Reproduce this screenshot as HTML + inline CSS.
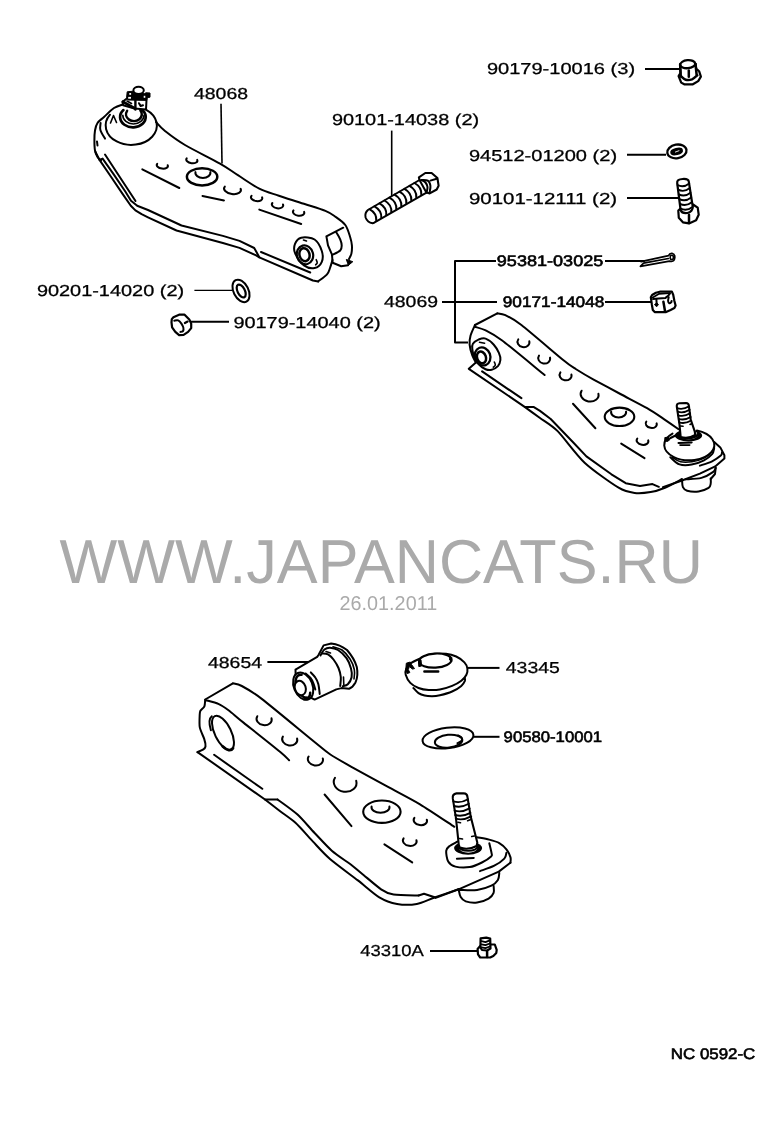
<!DOCTYPE html>
<html lang="en">
<head>
<meta charset="utf-8">
<title>Parts diagram NC 0592-C</title>
<style>
html,body{margin:0;padding:0;background:#fff;}
body{width:784px;height:1130px;overflow:hidden;position:relative;}
svg{display:block;position:absolute;left:0;top:0;will-change:transform;}
text{text-rendering:geometricPrecision;}
.t{font-family:"Liberation Sans",sans-serif;font-size:15.9px;fill:#000;stroke:#000;stroke-width:0.28;}
.b{font-family:"Liberation Sans",sans-serif;font-size:15.3px;fill:#000;stroke:#000;stroke-width:0.6;}
.w{font-family:"Liberation Sans",sans-serif;fill:#aaa;}
.l{fill:none;stroke:#000;stroke-width:2;stroke-linecap:round;stroke-linejoin:round;}
.f{fill:#fff;stroke:#000;stroke-width:2;stroke-linecap:round;stroke-linejoin:round;}
.h{fill:none;stroke:#000;stroke-width:1.6;stroke-linecap:round;stroke-linejoin:round;}
.k{fill:none;stroke:#000;stroke-width:2.5;stroke-linecap:round;stroke-linejoin:round;}
.d{fill:#000;stroke:#000;stroke-width:1;stroke-linejoin:round;}
</style>
</head>
<body>
<svg width="784" height="1130" viewBox="0 0 784 1130">
<rect x="0" y="0" width="784" height="1130" fill="#fff"/>
<!-- watermark -->
<g id="wm">
<text class="w" x="59.4" y="583" font-size="62" textLength="643.5" lengthAdjust="spacingAndGlyphs">WWW.JAPANCATS.RU</text>
<text class="w" x="339.6" y="609.8" font-size="20" textLength="97.6" lengthAdjust="spacingAndGlyphs">26.01.2011</text>
</g>
<!-- leader lines -->
<g id="leaders" class="l" style="stroke-width:2;stroke-linecap:butt">
<path d="M221 103.8 L222 163.5" style="stroke-width:1.6"/>
<path d="M391.7 130.6 V196" style="stroke-width:1.6"/>
<path d="M645 69 H679.5"/>
<path d="M627 154.8 H666"/>
<path d="M627 198 H679"/>
<path d="M496 261 H455 V342.5 H468"/>
<path d="M442 302 H497"/>
<path d="M605 261.1 H645"/>
<path d="M605 302 H651"/>
<path d="M194.4 290.4 H232" style="stroke-width:1.15"/>
<path d="M190 321.8 H229"/>
<path d="M267.4 662 H308"/>
<path d="M468 667.9 H499.5"/>
<path d="M473.5 736.8 H499.5"/>
<path d="M430 951 H477.5"/>
</g>
<!-- upper control arm 48068 -->
<g id="arm1">
<path class="l" d="M124 104 C122.3 104.7 117.3 105.8 114 108 C110.7 110.2 106.8 114.5 104 117 C101.2 119.5 99 120.8 97.5 123 C96 125.2 95.5 127.6 95 130.5 C94.5 133.4 94.4 137.2 94.4 140.5 C94.4 143.8 94.5 147.8 95 150.5 C95.5 153.2 96.5 155.3 97.5 157 C98.5 158.7 100.4 159.9 101 160.5"/>
<path class="l" d="M95.4 151.8 L99.5 159.9 L111 176.7 L122.4 193.6 L130.8 205.8 L135.4 210.4 L141.6 214.2 L148 217.3 L176.5 230.5 L222.9 243 L239.5 247.9 L256.1 255.4 L259.3 257.3"/>
<path class="l" d="M99.5 159.9 L102.6 158.6 L113.9 174.6 L125.3 191.5 L131 200.8 L137.2 205.8 L148 210 L181.5 225.5 L222.9 235.9 L239.5 240.9 L254.2 248 L257 253 L259.3 257.3 L312.9 280.5 L318.2 281.4"/>
<path class="l" d="M105 154.5 L135.5 201"/>
<path class="l" d="M261 252 L310.2 272.5"/>
<path class="l" d="M156 122 C157.5 123.5 160.2 127.2 165 131 C169.8 134.8 175.8 139.6 185 145 C194.2 150.4 211.2 158.6 220 163.6 C228.8 168.6 231.3 171 237.9 175.2 C244.5 179.4 252.5 185.2 259.3 188.6 C266.1 192 271.5 193.2 278.9 195.7 C286.3 198.2 296.1 201.2 303.9 203.8 C311.6 206.3 320 208.7 325.4 210.9 C330.8 213.1 332.7 214.8 336 217.1 C339.3 219.4 342.9 221.7 345.3 225 C347.7 228.3 349.1 233.8 350.2 237.2 C351.3 240.6 351.7 242.7 351.9 245.4 C352.1 248.1 351.9 251.3 351.4 253.6 C350.9 255.9 349.4 258.1 349 259"/>
<path class="l" d="M343.2 227.7 L326.4 236.4 L328 245.4 L332 254.6 L332.6 262.8 L341.2 266.3 L348 265.3"/>
<path class="l" d="M336.1 232.1 C336.8 233.3 339.3 237.1 340.2 239.3 C341.1 241.5 341.7 243.5 341.7 245.4 C341.7 247.3 341.8 248.9 340.2 250.5 C338.6 252.1 333.4 254.3 332 255.1"/>
<path class="l" d="M332.5 260 C332.1 261.3 330.9 265.6 330 268 C329.1 270.4 329 272.1 327 274.3 C325 276.5 319.7 280.2 318.2 281.4"/>
<path class="d" d="M346.3 259.4 L352.8 261.7 L348.4 265.3Z"/>
<path class="l" d="M301.2 237.7 C304.5 237 311.2 237.3 314.6 239.5 C318 241.7 320.6 247.3 321.8 251 C323 254.7 323 259 321.8 261.8 C320.6 264.6 317.6 267.4 314.6 268 C311.6 268.6 307.3 267.9 304 265.4 C300.7 262.9 296.5 256.5 295 252.9 C293.5 249.3 294 246.4 295 243.9 C296 241.4 298 238.4 301.2 237.7Z"/>
<ellipse class="l" style="stroke-width:2.2" cx="305" cy="254.8" rx="8.1" ry="9.5" transform="rotate(-15 305 254.8)"/>
<ellipse class="l" style="stroke-width:2.5" cx="304.5" cy="254.7" rx="5" ry="6.6" transform="rotate(-15 304.5 254.7)"/>
<path class="h" d="M303.5 240 L306.5 241"/>
<path class="h" d="M316.2 259.7 C316.4 260.2 317.3 261.9 317.2 262.8 C317.1 263.7 315.9 264.5 315.7 264.8"/>
<path class="l" d="M146.3 109.8 A25.6 19.4 0 1 1 110 114.7"/>
<path class="l" style="stroke-width:2.7" d="M141.1 109.1 A12.8 10.3 0 1 1 123.4 110.1"/>
<path class="h" d="M144 115.2 A10.6 8.8 0 1 1 122.8 115.2"/>
<path class="l" style="stroke-width:2.5" d="M140.4 110.4 A7.9 6.8 0 1 1 127.1 110.9"/>
<path class="f" style="stroke-width:2" d="M127.5 98 L122.6 101.8 L123.2 105.3 L134.5 108.6 L146 109.6 L146.6 98 Z"/>
<path class="l" style="stroke-width:2.8" d="M122.8 101.8 L134.6 108.2"/>
<path class="l" style="stroke-width:2.4" d="M135.4 99 L135.4 109.6"/>
<path class="l" style="stroke-width:2" d="M139 103.2 L140.6 106 L143 105.2"/>
<path class="h" d="M127 101 L131.5 103.5"/>
<path class="d" d="M127.2 91.8 L133.2 91.2 L134 93.6 L144.5 93.6 L146 92.8 L150 93 L150 97.2 L147.2 97.6 L146.6 100.4 L128 100 L126.6 97.4 Z"/>
<ellipse cx="138.6" cy="90.3" rx="5.2" ry="3.6" fill="#fff" stroke="#000" stroke-width="2"/>
<rect x="129.3" y="93" width="1.8" height="1.8" fill="#fff"/>
<rect x="128.2" y="96.9" width="2.8" height="1.8" fill="#fff"/>
<rect x="143.7" y="95.8" width="1.6" height="2" fill="#fff"/>
<path class="l" d="M100.6 123 C100.6 124.2 99.7 127.4 100.4 130 C101.1 132.6 104.2 137.2 105 138.6"/>
<path class="l" d="M97 141.5 L97.5 145.5"/>
<path class="h" d="M110.5 123 L113.5 115.5 L116.5 122.5"/>
<ellipse class="k" cx="202.1" cy="176.8" rx="15.2" ry="8.6"/>
<path class="l" d="M210.3 172.1 A7.5 5 0 1 1 195.5 172.1"/>
<path class="l" d="M142.3 169.3 L179.3 188"/>
<path class="l" d="M202.5 196 L224 200.4"/>
<path class="l" d="M259.3 209.6 L301.2 224"/>
<path class="l" d="M167.7 165.2 A5.6 3.1 8 1 1 157.2 163.8"/>
<path class="l" d="M197.2 159.8 A5.6 3.1 8 1 1 186.7 158.4"/>
<path class="l" d="M240.6 188.8 A8.5 4.7 8 1 1 224.8 186.6"/>
<path class="l" d="M262.1 197.3 A5.7 3.4 8 1 1 251.5 195.8"/>
<path class="l" d="M283 204.5 A5.7 3.4 8 1 1 272.4 203"/>
<path class="l" d="M304.1 211.9 A5.7 3.4 8 1 1 293.5 210.4"/>
</g>
<!-- upper control arm 48069 -->
<g id="arm2">
<path class="l" d="M475.9 362.5 C475.3 361.3 473.4 358.4 472.3 355.4 C471.2 352.4 469.9 347.9 469.6 344.6 C469.3 341.3 469.6 339 470.5 335.7 C471.4 332.4 474.2 326.8 475 325"/>
<path class="l" d="M475 325 L497.3 313.4"/>
<path class="l" d="M497.3 313.4 C498.4 313.6 502.2 313.7 505.4 315.2 C508.6 316.7 513.7 319 521.4 325 C529.1 331 556 354.1 563.2 360 C570.4 365.9 571.6 366.4 575.7 369 C579.8 371.6 587.6 376.3 593.6 379.6 C599.6 382.9 613.3 390.2 620.4 394 C627.5 397.8 641.2 404.8 647.1 408.2 C653 411.6 660.8 417 665 419.8 C669.2 422.6 676.8 428 678.6 429.3"/>
<path class="l" d="M475 326.8 C476.4 327.3 482.1 328.6 485.7 330.4 C489.3 332.2 493.9 334.3 501.8 340.2 C509.7 346.1 538.9 370.4 544.6 375"/>
<path class="l" d="M472.9 343.7 C473.9 342.2 476.4 340.5 478.5 339.6 C480.6 338.8 483.1 337.8 485.6 338.6 C488.2 339.5 491.6 342.3 493.8 344.7 C496 347.1 497.8 350.3 498.9 352.9 C500 355.4 500.6 357.8 500.4 360 C500.2 362.2 499.3 364.5 497.9 366.1 C496.4 367.7 493.8 369.2 491.7 369.7 C489.6 370.2 487.8 370.1 485.6 369.2 C483.4 368.3 480.4 366.3 478.5 364.1 C476.6 361.9 474.9 358.4 473.9 355.9 C472.9 353.3 472.5 350.8 472.3 348.8 C472.1 346.8 471.9 345.2 472.9 343.7Z"/>
<ellipse class="l" style="stroke-width:2.3" cx="482.6" cy="356.4" rx="7.7" ry="9.2" transform="rotate(-20 482.6 356.4)"/>
<ellipse class="l" style="stroke-width:2.5" cx="481.5" cy="357.4" rx="4.4" ry="6" transform="rotate(-20 481.5 357.4)"/>
<path class="h" d="M479.5 342.2 L484.6 343.2"/>
<path class="h" d="M494.3 362 C494.5 362.5 495.5 364.2 495.3 365.1 C495.1 366 493.6 366.8 493.3 367.1"/>
<path class="l" d="M475.9 362.5 L468.8 368.8 L525 407.1 L533.9 407.1 L540 410.9 L550.7 419 L572.1 441.2 L586.4 456.4 L611.4 474.3 L625.7 483.2 L640 485.9 L652.5 484.1 L658.8 486.8"/>
<path class="l" d="M482.1 371.4 L521.4 398.2"/>
<path class="l" d="M525 407.1 C527 408.6 535.6 414.8 540 418 C544.4 421.2 552 425.4 557.9 431.4 C563.8 437.4 576.5 455.2 584.6 462.7 C592.7 470.2 611.9 483.7 618.6 487.7 C625.3 491.7 630.3 492.4 634.6 493 C638.9 493.6 646.6 492.8 650.7 492.1 C654.8 491.4 660.8 489.4 665 487.7 C669.2 486 679.7 480.2 682 479"/>
<ellipse class="l" style="stroke-width:2.1" cx="619.5" cy="416.8" rx="14.8" ry="9.2"/>
<path class="l" d="M626 411.6 A7.5 5 0 1 1 611.2 411.6"/>
<path class="l" d="M573 403.8 L595.4 428.2"/>
<path class="l" d="M621.2 443.6 L644.5 458.2"/>
<path class="l" d="M696.9 430.4 A25 15.3 0 1 1 672.5 433.6"/>
<path class="l" d="M670.3 457.2 C671.8 458.4 675.9 463.2 679.5 464.4 C683.1 465.6 687.6 465.3 691.7 464.6 C695.8 463.9 700.6 462 704 460.3 C707.4 458.6 710.4 456.2 712.1 454.2 C713.8 452.1 713.9 449 714.2 448"/>
<path class="h" d="M672.5 457.5 C673.8 458.2 677.2 461.1 680.5 461.8 C683.8 462.5 688.2 462.3 692 461.8 C695.8 461.3 700 460 703 458.6 C706 457.2 708.8 454.4 710 453.6"/>
<ellipse cx="688.5" cy="435.6" rx="13.6" ry="6" fill="#000"/>
<ellipse cx="688.7" cy="434.8" rx="9.2" ry="4.5" fill="#fff"/>
<path class="l" style="stroke-width:2.2" d="M697.5 434.2 A9.2 4 0 0 1 679.1 434.2"/>
<path class="l" d="M678.5 443 L691.7 442.4"/>
<path class="h" d="M680 445.1 L689.7 445.1"/>
<path class="d" d="M664.8 437.6 L668.5 437 L670 439.5 L667.5 441.5 L665 441Z"/>
<path class="l" d="M670.5 438 L675.5 435.5"/>
<path class="f" style="stroke-width:2.1" d="M676.8 406.6 Q676.4 403.4 679.5 403.2 L686 403 Q688.6 403.2 688.8 405.4 L690.7 419.5 L694.8 431.7 L695.2 435 Q688 439.5 680.7 437 L679.5 424.6 Z"/>
<path class="l" style="stroke-width:1.8" d="M677.3 408.2 Q683.0 410.0 689.2 406.2"/>
<path class="l" style="stroke-width:1.8" d="M677.8 411.7 Q683.5 413.5 689.7 409.7"/>
<path class="l" style="stroke-width:1.8" d="M678.3 415.3 Q684.0 417.1 690.2 413.3"/>
<path class="l" style="stroke-width:1.8" d="M678.8 418.9 Q684.5 420.7 690.7 416.9"/>
<path class="l" style="stroke-width:1.8" d="M679.3 422.4 Q685.0 424.2 691.2 420.4"/>
<path class="h" d="M680.5 426 L683 426.3"/>
<path class="h" d="M690 424.5 L692 423.5"/>
<path class="l" d="M714.2 442 L720.3 447.4 L724.4 455.2 L724.4 458.6 L715.2 466.4 L699.9 473.6 L681.4 480.7 L662.9 487.1"/>
<path class="l" d="M699.9 465.6 C701.9 464.9 708.6 463 712.1 461.3 C715.6 459.6 719.1 457.1 720.8 455.6 C722.4 454.1 721.8 452.9 722 452.4"/>
<path class="l" d="M682.1 480.7 C682.2 481.8 682.1 485.4 682.9 487.1 C683.7 488.8 684.5 490 687.1 490.7 C689.7 491.4 695 491.9 698.6 491.4 C702.2 490.9 706.6 489.2 708.6 487.9 C710.6 486.6 710.4 485.2 710.7 483.6 C711.1 482.1 710.7 479.4 710.7 478.6"/>
<path class="l" d="M685.7 479.3 C688.3 479.1 696.9 479.1 701.4 477.9 C705.9 476.7 710.5 473.8 712.9 472.1 C715.3 470.4 715.2 468.6 715.7 467.9"/>
<path class="l" d="M715.7 467.9 L715 474 L710.7 479"/>
<path class="l" d="M529.3 341.2 A6 5.1 10 1 1 518.3 339.2"/>
<path class="l" d="M550 357.6 A6 5.1 10 1 1 539 355.6"/>
<path class="l" d="M571.4 374.4 A6 5.1 10 1 1 560.4 372.4"/>
<path class="l" d="M598.4 393.7 A9 7.1 10 1 1 581.6 390.7"/>
<path class="l" d="M656.6 423.4 A5.6 4 10 1 1 646.3 421.6"/>
<path class="l" d="M648.2 440.4 A5.9 4 10 1 1 637.3 438.5"/>
</g>
<!-- lower control arm -->
<g id="arm3">
<path class="l" d="M205.2 699.7 C205.1 700.6 205 704.9 204.4 706.4 C203.8 707.9 201 709.7 200.4 710.8 C199.8 711.9 199.8 712.6 199.7 714.8 C199.6 717 199.2 724.2 199.8 727.4 C200.4 730.6 203.4 736.4 204.2 738.9 C205 741.4 205.7 745.1 205.5 746.5 C205.3 747.9 204.1 749 203 749.7 C201.9 750.4 198.2 751.8 197.5 752.1"/>
<path class="l" d="M205.2 699.5 L232.9 683.4"/>
<path class="l" d="M232.9 683.4 C234.1 683.7 238 684 241.8 686 C245.6 688 252 691.4 261.4 698.6 C270.8 705.8 303 732.6 312.1 740 C321.2 747.4 324.8 750.7 330 754.3 C335.2 757.9 343.8 762.5 351.4 766.8 C359 771.1 378 781.4 387.1 786.4 C396.2 791.4 411 798.9 420 804.3 C429 809.7 449.7 823.8 454.3 826.8"/>
<path class="l" d="M205.8 700.2 C207.5 700.7 215.3 702.5 218.3 703.8 C221.3 705.1 225.1 707.7 228.5 710.2 C231.9 712.7 236.9 717.4 243.8 722.9 C250.7 728.4 274 746.8 280 751.8 C286 756.8 287.9 759.1 289.1 760.2"/>
<ellipse class="l" cx="223" cy="732.8" rx="8.2" ry="18.6" transform="rotate(-26 223 732.8)"/>
<path class="l" style="stroke-width:2.8" d="M233 748.2 A8.2 18.6 -26 0 1 222.8 746.5"/>
<path class="l" d="M210.9 730.3 A8.2 18.6 -26 0 1 211.8 716.3"/>
<path class="l" d="M197.5 752.1 L265 799.5 L277.5 799.5"/>
<path class="l" d="M277.5 799.5 C280.2 801.5 292.6 810.1 297.5 814.6 C302.4 819.1 310 828.2 314.6 833 C319.2 837.8 326.9 846.4 331.8 850.7 C336.7 855 347.5 862 351.4 865 C355.3 868 357.4 870 361.4 873.2 C365.4 876.4 376.8 886.4 381.1 889.3 C385.4 892.2 388.6 893.8 393.6 894.6 C398.6 895.4 415.3 895.4 418.6 895.5"/>
<path class="l" d="M418.6 895.5 L424 893.8 L434.6 897.3"/>
<path class="l" d="M214.1 754.8 L262.3 788.8"/>
<path class="l" d="M265 799.5 C266.9 801 275.5 807.7 279.5 810.8 C283.5 813.9 290.7 818.5 295.2 822.6 C299.7 826.7 308.4 836.7 313 841.6 C317.6 846.5 324 853.8 330 859 C336 864.2 351.3 875.3 357.9 880.4 C364.5 885.5 374.1 894.2 379.3 897.3 C384.5 900.4 392.1 903 397.1 903.9 C402.1 904.8 411.8 904.8 416.8 903.9 C421.8 903 429 899.4 434.6 897.5 C440.2 895.6 455.4 890.4 458.6 889.3"/>
<ellipse class="l" style="stroke-width:2.1" cx="381.9" cy="811.7" rx="18.7" ry="11.2"/>
<path class="l" d="M389.4 806.5 A9 5.5 0 1 1 371.6 806.5"/>
<path class="l" d="M324.6 794.5 L351.5 826.1"/>
<path class="l" d="M384.4 844.4 L412.2 862.4"/>
<path class="l" d="M457.4 841.6 C456.2 842.3 451 844.8 449.3 846.2 C447.6 847.6 446.4 848.5 446.2 850.8 C446 853.1 446.8 859.1 448.2 861.5 C449.6 863.9 452.2 865.8 455.4 866.6 C458.6 867.4 465.7 867.7 469.7 867.1 C473.7 866.5 478.7 864.1 481.9 862.5 C485.1 860.9 489.6 857.8 491.1 856.4 C492.6 855 491.9 855.3 491.6 853.3 C491.3 851.3 489.6 844.8 489.3 843.3"/>
<ellipse cx="468.1" cy="848.1" rx="14" ry="6.6" fill="#000"/>
<ellipse cx="468.3" cy="847.6" rx="9.3" ry="5.1" fill="#fff"/>
<path class="l" d="M477.6 846.6 A9.4 4.2 0 0 1 458.8 846.6"/>
<path class="l" style="stroke-width:2" d="M456.9 858.7 L473.8 857.9"/>
<path class="f" style="stroke-width:2.1" d="M452.8 798.4 Q452.2 794 456.5 793.4 L463.5 793.2 Q467.2 793.4 467.4 796.6 L470.7 816.6 L477.3 842.6 L476.6 846 Q468 850.6 459.8 847.6 L458.8 845 L455.9 817.6 Z"/>
<path class="l" style="stroke-width:1.9" d="M453.4 801.4 Q460.5 803.6 468.0 799.2"/>
<path class="l" style="stroke-width:1.9" d="M454.0 806.0 Q461.1 808.2 468.8 803.8"/>
<path class="l" style="stroke-width:1.9" d="M454.6 810.6 Q461.7 812.8 469.6 808.4"/>
<path class="l" style="stroke-width:1.9" d="M455.2 815.0 Q462.3 817.2 470.4 812.8"/>
<path class="l" style="stroke-width:1.9" d="M455.8 818.6 Q462.9 820.8 471.2 816.4"/>
<path class="h" d="M457.9 822.2 L460.5 822.8"/>
<path class="h" d="M467.6 820.7 L470.2 819.7"/>
<path class="h" d="M471.7 836.5 L474.3 836"/>
<path class="h" d="M459.5 838.5 L462.5 839"/>
<path class="l" d="M476.8 837.2 C478.6 837.6 485.7 838.7 489.1 839.6 C492.5 840.5 496.7 841.6 499.3 843.1 C501.9 844.6 504.7 847.2 506.4 849.3 C508.1 851.4 509.9 855.4 510.5 857.4 C511.1 859.4 510.4 861.9 510.4 862.7"/>
<path class="l" d="M510.4 862.7 L498.8 871.6 L458.6 889.3 L435.7 897.9"/>
<path class="l" d="M480 871.1 C482.4 870.2 490.2 867.8 494.3 865.7 C498.4 863.6 502.3 860.7 504.3 858.6 C506.3 856.5 506 853.9 506.4 852.9"/>
<path class="l" d="M458.6 889.3 C459 890.6 459.5 895.1 460.7 897.1 C461.9 899.1 463 900.5 465.7 901.4 C468.4 902.3 473.3 903.1 477.1 902.6 C480.9 902.1 485.9 900.2 488.6 898.6 C491.4 897 492.8 895 493.6 892.9 C494.4 890.8 493.6 886.9 493.6 885.7"/>
<path class="l" d="M460 890 C462.9 890 471.9 890.7 477.1 890 C482.3 889.3 487.9 887.4 491.4 885.7 C494.9 884 496.6 882.1 497.9 880 C499.2 877.9 499.1 874.1 499.3 872.9"/>
<path class="l" d="M271.5 718.2 A7.6 6 8 1 1 257.3 716.2"/>
<path class="l" d="M297.1 738.5 A7.6 6 8 1 1 282.9 736.5"/>
<path class="l" d="M322.8 758.5 A7.6 6 8 1 1 308.6 756.5"/>
<path class="l" d="M356.2 780.8 A11.4 9.3 8 1 1 335 777.8"/>
<path class="l" d="M426.8 819.7 A6.7 4.7 8 1 1 414.4 817.9"/>
<path class="l" d="M416.4 840.2 A6.9 4.9 8 1 1 403.6 838.4"/>
</g>
<!-- flange nut 90179-10016 -->
<g id="nut1">
<path class="f" style="stroke-width:2.2" d="M678.6 76 L681.2 82.6 L684.2 84.3 L692.9 84.3 L698.2 81.1 L700.9 76.6 L699.1 71.2 L696.2 68.6 L695.6 63.8 L680 64.2 L680.4 73 Z"/>
<ellipse class="f" style="stroke-width:2.3" cx="687.7" cy="64.2" rx="7.5" ry="4" transform="rotate(-5 687.7 64.2)"/>
<path class="k" d="M680.8 76 C681.6 76.6 683.8 79.2 685.7 79.7 C687.6 80.2 690.1 80 692 79.3 C693.9 78.5 696.4 75.9 697.3 75.2"/>
<path class="k" d="M680.2 65 L680.8 76.6"/>
<path class="k" d="M695.5 64 L696.6 74.5"/>
<path class="k" d="M688.8 70.6 L688.8 76.8"/>
</g>
<!-- washer 94512-01200 -->
<g id="washer1">
<ellipse class="f" style="stroke-width:2.3" cx="676.9" cy="151.4" rx="9.7" ry="6.8" transform="rotate(-10 676.9 151.4)"/>
<ellipse class="d" style="stroke-width:2.4" cx="676.6" cy="151.5" rx="5.3" ry="2.4" transform="rotate(-14 676.6 151.5)"/>
<path d="M675 152.2 L679.3 150.6" stroke="#fff" stroke-width="0.9" fill="none"/>
</g>
<!-- bolt 90101-12111 -->
<g id="bolt2">
<path class="f" style="stroke-width:2.2" d="M678.3 210.6 L678.8 217.8 L682.9 222.3 L689 223.4 L696.1 220.3 L698.7 214.7 L697.7 207.6 L693 204.5 L680.5 208.5 Z"/>
<path class="k" d="M689 214.7 L689 222.9"/>
<path class="f" style="stroke-width:2.2" d="M677.2 183 Q676.6 179.4 682.7 179 Q688.4 178.6 688.8 181.6 L692.8 207 Q692.6 211.5 687.5 213 Q682 213.8 680.6 210 Z"/>
<path class="l" style="stroke-width:1.9" d="M677.6 185.0 Q683.4 188.0 689.2 183.4"/>
<path class="l" style="stroke-width:1.9" d="M678.2 189.7 Q684.0 192.7 689.9 188.1"/>
<path class="l" style="stroke-width:1.9" d="M678.8 194.4 Q684.7 197.4 690.5 192.8"/>
<path class="l" style="stroke-width:1.9" d="M679.4 199.1 Q685.3 202.1 691.2 197.5"/>
<path class="l" style="stroke-width:1.9" d="M680.0 203.8 Q685.9 206.8 691.8 202.2"/>
<path class="l" style="stroke-width:1.9" d="M680.6 208.5 Q686.5 211.5 692.5 206.9"/>
</g>
<!-- bolt 90101-14038 -->
<g id="bolt1">
<path class="f" style="stroke-width:2.1" d="M418.9 177.4 L425.3 173 L431.6 173 L437.4 178 L438.6 185.7 L436.7 189.5 L429.7 193.4 L425.3 192.1 L421 186 Z"/>
<path class="l" style="stroke-width:2" d="M421.4 180 C422.5 180.1 426.3 179.7 427.8 180.6 C429.3 181.5 430.1 183.8 430.4 185.7 C430.7 187.6 429.8 191 429.7 192.1"/>
<path class="l" style="stroke-width:2" d="M430.4 180.6 L436.7 178.7"/>
<path class="f" style="stroke-width:2" d="M419.5 180 L367.9 210 Q364.5 213 365.6 217.5 Q367.5 222.8 372.5 223.2 L374.2 222.7 L426.5 192.7 Z"/>
<path class="l" style="stroke-width:2" d="M369.5 209.2 Q376.9 213.4 376.3 220.8"/>
<path class="l" style="stroke-width:2" d="M374.5 206.3 Q381.9 210.5 381.3 217.9"/>
<path class="l" style="stroke-width:2" d="M379.5 203.4 Q386.9 207.6 386.3 215.0"/>
<path class="l" style="stroke-width:2" d="M384.5 200.5 Q391.9 204.7 391.3 212.1"/>
<path class="l" style="stroke-width:2" d="M389.5 197.6 Q396.9 201.8 396.3 209.2"/>
<path class="l" style="stroke-width:2" d="M394.5 194.6 Q401.9 198.8 401.3 206.2"/>
<path class="l" style="stroke-width:2" d="M399.5 191.7 Q406.9 195.9 406.3 203.3"/>
<path class="l" style="stroke-width:2" d="M404.5 188.8 Q411.9 193.0 411.3 200.4"/>
<path class="l" style="stroke-width:2" d="M409.5 185.9 Q416.9 190.1 416.3 197.5"/>
<path class="l" style="stroke-width:2" d="M414.5 183.0 Q421.9 187.2 421.3 194.6"/>
<path class="l" style="stroke-width:2" d="M421.4 180 C422.1 180.4 424.5 181.3 425.5 182.5 C426.5 183.7 427.3 185.3 427.5 187 C427.7 188.7 426.7 191.6 426.5 192.5"/>
</g>
<!-- cotter pin 95381-03025 -->
<g id="pin">
<path class="f" style="stroke-width:1.7" d="M641 261.6 L668.6 255.6 Q669.5 253.2 672 253.4 Q675 254 674.8 257.5 Q674.5 261.2 671.5 261.5 L669.5 261.1 L640.4 266.3 L643.6 263.2 L668.5 258.5"/>
<ellipse class="h" cx="671.8" cy="257.4" rx="1.6" ry="2.2"/>
</g>
<!-- castle nut 90171-14048 -->
<g id="nut2">
<path class="f" style="stroke-width:2.2" d="M650.8 297.2 L652.1 295 L655.9 292.8 L659.8 291.7 L671.9 291.7 L673.2 294.7 L674.4 301 L675.6 305.5 L674.4 308.1 L670.6 310 L666.1 312.1 L654.7 312.1 L652.8 310 L651.8 304.2 Z"/>
<path class="l" style="stroke-width:1.7" d="M652.8 297.5 L659.1 293.8 L669.3 293.2"/>
<path class="l" style="stroke-width:2" d="M653.1 299.1 L658.5 298.5 L665.5 297.9 L668.1 295.9 L670 293.4"/>
<path class="l" style="stroke-width:2.5" d="M663.4 301.7 L665.1 311.6"/>
<path class="l" style="stroke-width:2" d="M668.7 297.2 C668.6 297.8 668 300 668.1 301 C668.2 302 668.8 303.1 669.3 303.3 C669.8 303.5 670.8 302.7 671.2 302.3 C671.6 301.9 671.5 301.2 671.6 301"/>
<path class="d" d="M654.5 304.5 L656.8 302.8 L658.4 304.6 L656.6 306.8 Z"/>
<path class="l" d="M656.4 299.5 L656.6 303"/>
</g>
<!-- washer 90201-14020 -->
<g id="washer2">
<ellipse class="f" style="stroke-width:2" cx="241" cy="290.9" rx="7.4" ry="12" transform="rotate(-27 241 290.9)"/>
<ellipse class="f" style="stroke-width:2.2" cx="241.2" cy="291" rx="3.6" ry="7" transform="rotate(-27 241.2 291)"/>
</g>
<!-- nut 90179-14040 -->
<g id="nut3">
<path class="f" style="stroke-width:2.2" d="M171.8 319.1 L173.4 317.2 L179.1 314.7 L184.6 314.7 L189.3 319.5 L191.2 323.6 L191.2 328.1 L188.1 331.9 L183.6 334.8 L179.1 335.1 L175.3 331.9 L172.1 327.4 L171.5 322.3 Z"/>
<path class="l" style="stroke-width:2" d="M174.3 320.7 C175 320.6 177 319.9 178.2 320.4 C179.4 320.9 180.6 322.4 181.4 323.6 C182.2 324.8 183 326.1 183.3 327.4 C183.6 328.7 183.5 330.4 183 331.2 C182.5 331.9 180.8 331.8 180.4 331.9"/>
<path class="l" style="stroke-width:2.2" d="M184.9 323 L187.6 321.6"/>
</g>
<!-- bushing 48654 -->
<g id="bushing">
<path class="f" d="M318.5 655 L323.6 645.4 L331.2 643.5 Q340 644.5 347 650 Q354.2 658.2 356.8 667 Q358.5 676 355.5 682.4 Q352.5 687.5 349.1 688.8 L341.4 688.1 L336.3 689.4 L314.6 699.6 L296 690 L295.5 669.6 L317.2 656.9 Z"/>
<path class="l" d="M320.5 655.4 C321.1 654.4 322.8 650.8 324.4 649.5 C326 648.2 327.7 647.6 330 647.7 C332.3 647.8 335.2 648.2 338 650 C340.8 651.8 344.3 655.1 346.5 658.2 C348.7 661.3 350.1 665.2 351 668.4 C351.9 671.6 352.1 674.6 351.6 677.3 C351.1 679.9 349.3 682.8 347.8 684.3 C346.3 685.8 343.6 685.9 342.7 686.2"/>
<path class="h" d="M333 646.8 C334.5 647.3 339.2 648 342 650 C344.8 652 347.9 655.8 350 659 C352.1 662.2 353.6 666.2 354.3 669.5 C355 672.8 354.1 677.4 354 679"/>
<path class="l" d="M322 653.5 C323 653.6 326.1 653.3 328 654.3 C329.9 655.3 331.8 657.2 333.5 659.5 C335.2 661.8 337.3 665.1 338.5 668 C339.7 670.9 340.5 674 340.8 677 C341.1 680 340.3 684.5 340.2 686"/>
<path class="h" d="M326 651.5 L330.5 653"/>
<path class="h" d="M343.5 677 L343.8 685"/>
<path class="l" d="M305.7 673.5 C306.5 674.2 309.2 676.4 310.5 678 C311.8 679.6 312.6 681.5 313.4 683.4 C314.2 685.3 315 688.5 315.3 689.5"/>
<path class="l" d="M310.8 672.4 C311.6 673.2 314.1 675.6 315.3 677.5 C316.6 679.4 317.6 681.3 318.3 684 C319 686.7 319.5 692.2 319.7 693.9"/>
<ellipse class="f" style="stroke-width:2" cx="303.2" cy="686.2" rx="9.3" ry="14.2" transform="rotate(-22 303.2 686.2)"/>
<path class="k" d="M306.8 697.6 A7.2 12 -22 1 1 301.6 674.8"/>
<ellipse class="f" style="stroke-width:2" cx="300.3" cy="688" rx="5.4" ry="7.4" transform="rotate(-18 300.3 688)"/>
<path class="k" d="M310.2 692.7 A6 7.5 -18 0 1 304.2 699.3"/>
</g>
<!-- dust cover 43345 -->
<g id="cover">
<path class="l" style="stroke-width:2" d="M413.4 688 C414.2 688.9 416.6 691.8 418.5 693.1 C420.4 694.4 422.4 695.1 424.6 695.6 C426.9 696.1 429.4 696.2 432 696.2 C434.6 696.2 436.5 696.1 439.9 695.3 C443.2 694.5 448.5 693.1 452.1 691.5 C455.7 689.9 459.2 687.7 461.3 685.9 C463.4 684.1 464.3 682.2 464.9 680.8 C465.4 679.4 464.7 678 464.6 677.5"/>
<path class="f" style="stroke-width:2" d="M405.7 674.7 C405 672.4 405.4 670.9 406.2 669 C407 667.1 407.9 665.3 410.3 663.5 C412.7 661.7 416.8 660 420.5 658.4 C424.2 656.8 428.6 654.8 432.8 654 C437.1 653.2 442.1 653.4 446 653.8 C449.9 654.2 453.1 655.1 456.2 656.5 C459.3 657.9 462.5 660.4 464.4 662.4 C466.3 664.4 467.1 666.5 467.4 668.6 C467.7 670.7 467.4 672.7 466.4 674.7 C465.4 676.7 463.7 678.9 461.3 680.8 C458.9 682.7 455.7 684.4 452.1 685.9 C448.5 687.4 443.8 688.8 439.9 689.5 C436 690.2 432.3 690.2 428.7 690 C425.1 689.8 421.6 689.2 418.5 688 C415.4 686.8 412.4 685.1 410.3 682.9 C408.2 680.7 406.4 677 405.7 674.7Z"/>
<ellipse class="f" style="stroke-width:2.1" cx="435.3" cy="660.6" rx="16.2" ry="7" transform="rotate(-3 435.3 660.6)"/>
<path class="k" d="M424.4 671.6 L438.2 671.4"/>
<path class="d" d="M406.3 663.2 L410.3 662 L411.5 664.5 L414.5 668.6 L412.4 669.1 L409.4 666.6 L408.3 669.6 L409.8 672.6 L407.2 673.6 L405.8 669.6 Z"/>
<path class="d" d="M418.4 660.6 L421 659.8 L421.6 666 L418.8 666.6 Z"/>
<path class="d" d="M449.8 655.6 L451.8 657.6 L451.8 661.6 L449.6 660 Z"/>
</g>
<!-- ring 90580-10001 -->
<g id="ring">
<ellipse class="f" style="stroke-width:2" cx="448" cy="737.9" rx="25.6" ry="10.3" transform="rotate(-7 448 737.9)"/>
<ellipse class="l" style="stroke-width:2" cx="448.6" cy="741.2" rx="13.8" ry="6.4" transform="rotate(-6 448.6 741.2)"/>
<path class="l" style="stroke-width:2" d="M458 735.5 C458.6 735.8 460.9 736.7 461.5 737.5 C462.1 738.3 462.5 739.5 461.8 740.5 C461.1 741.5 458.2 742.8 457.5 743.2"/>
</g>
<!-- bolt 43310A -->
<g id="bolt3">
<path class="f" style="stroke-width:2.2" d="M477.6 949 L480.2 946 L491 944.5 L494.8 944.5 L496.7 949.8 L496.3 952.9 L493.3 956 L490.2 957.5 L480.2 957.5 L478 954.4 Z"/>
<path class="k" d="M487.1 950.6 L487.1 957.1"/>
<path class="f" style="stroke-width:2.2" d="M480.6 938.4 L486.3 937.6 L490.2 938.6 L490.5 948.5 L487 950.5 L482 950 L480.4 947.5 Z"/>
<path class="l" style="stroke-width:1.8" d="M481.5 941.2 L485.5 942.1 L489.8 940.4"/>
<path class="l" style="stroke-width:1.8" d="M481.5 944.3 L485.5 945.2 L489.8 943.5"/>
<path class="l" style="stroke-width:1.8" d="M481.5 947.3 L485.5 948.2 L489.8 946.5"/>
</g>
<!-- part number labels -->
<g id="labels">
<text class="t" x="194" y="98.9" textLength="54" lengthAdjust="spacingAndGlyphs">48068</text>
<text class="t" x="331.9" y="124.9" textLength="147.2" lengthAdjust="spacingAndGlyphs">90101-14038 (2)</text>
<text class="t" x="486.9" y="74.4" textLength="148.2" lengthAdjust="spacingAndGlyphs">90179-10016 (3)</text>
<text class="t" x="468.9" y="160.9" textLength="148.2" lengthAdjust="spacingAndGlyphs">94512-01200 (2)</text>
<text class="t" x="468.9" y="204.4" textLength="148.2" lengthAdjust="spacingAndGlyphs">90101-12111 (2)</text>
<text class="b" x="496.8" y="266" textLength="106.5" lengthAdjust="spacingAndGlyphs">95381-03025</text>
<text class="t" x="384" y="307.4" textLength="54" lengthAdjust="spacingAndGlyphs">48069</text>
<text class="b" x="502.8" y="307.2" textLength="101.5" lengthAdjust="spacingAndGlyphs">90171-14048</text>
<text class="t" x="36.9" y="295.9" textLength="147.2" lengthAdjust="spacingAndGlyphs">90201-14020 (2)</text>
<text class="t" x="233.4" y="328.4" textLength="147.2" lengthAdjust="spacingAndGlyphs">90179-14040 (2)</text>
<text class="t" x="208" y="667.7" textLength="54" lengthAdjust="spacingAndGlyphs">48654</text>
<text class="t" x="505.8" y="672.5" textLength="54" lengthAdjust="spacingAndGlyphs">43345</text>
<text class="b" x="503.6" y="741.6" textLength="98.5" lengthAdjust="spacingAndGlyphs">90580-10001</text>
<text class="t" x="360.2" y="956.4" textLength="63.5" lengthAdjust="spacingAndGlyphs">43310A</text>
<text class="b" x="670.8" y="1058.7" textLength="84.5" lengthAdjust="spacingAndGlyphs">NC 0592-C</text>
</g>
</svg>
</body>
</html>
